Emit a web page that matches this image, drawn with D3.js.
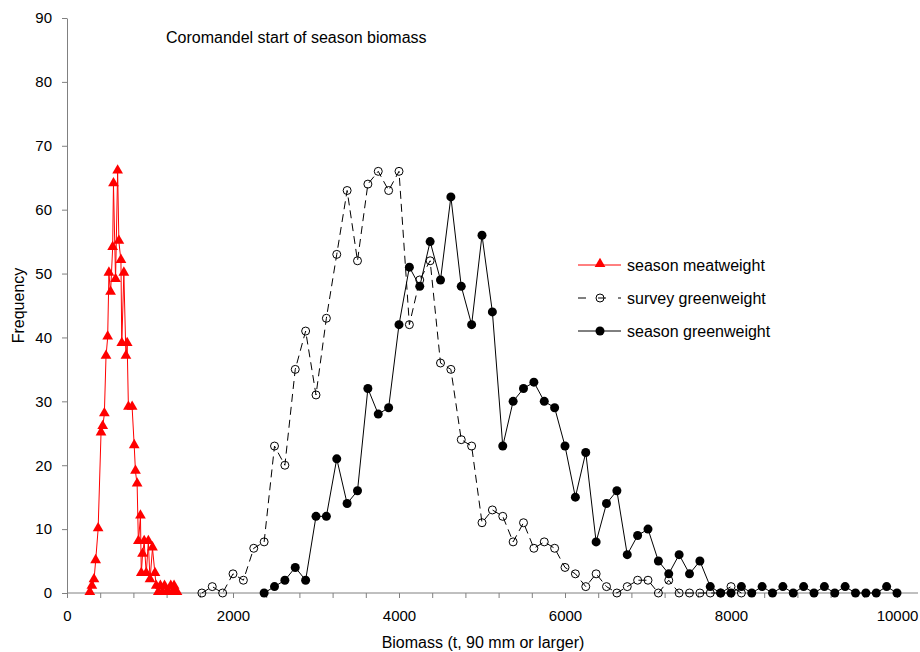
<!DOCTYPE html>
<html>
<head>
<meta charset="utf-8">
<script src="https://cdn.jsdelivr.net/npm/d3@7"></script>
<style>
  body { margin: 0; background: #fff; }
  svg text { font-family: Arial, "Liberation Sans", sans-serif; fill: #000; }
</style>
</head>
<body>
<div id="chart"></div>
<script>
// season meatweight (red triangles)
const meatX = [275, 300, 325, 345, 375, 410, 430, 450, 470, 490, 505, 525, 550, 560, 585, 610, 625, 650, 660, 685,
    710, 725, 740, 785, 810, 825, 845, 860, 885, 895, 910, 930, 955, 980, 1000, 1030, 1060, 1075, 1100, 1125,
    1150, 1175, 1200, 1225, 1250, 1275, 1290, 1310, 1325];
const meatY = [0, 1, 2, 5, 10, 25, 26, 28, 37, 40, 50, 47, 54, 64, 49, 66, 55, 52, 39, 50,
    37, 39, 29, 29, 23, 19, 17, 8, 12, 3, 6, 8, 3, 8, 2, 7, 3, 1, 0, 1,
    0, 1, 0, 0, 1, 0, 1, 0, 0];

// survey greenweight (open circles, dashed)
const surveyX = [1625, 1750, 1875, 2000, 2125, 2250, 2375, 2500, 2625, 2750, 2875, 3000, 3125, 3250, 3375, 3500,
    3625, 3750, 3875, 4000, 4125, 4250, 4375, 4500, 4625, 4750, 4875, 5000, 5125, 5250, 5375, 5500,
    5625, 5750, 5875, 6000, 6125, 6250, 6375, 6500, 6625, 6750, 6875, 7000, 7125, 7250, 7375, 7500,
    7625, 7750, 7875, 8000, 8125];
const surveyY = [0, 1, 0, 3, 2, 7, 8, 23, 20, 35, 41, 31, 43, 53, 63, 52,
    64, 66, 63, 66, 42, 49, 52, 36, 35, 24, 23, 11, 13, 12, 8, 11,
    7, 8, 7, 4, 3, 1, 3, 1, 0, 1, 2, 2, 0, 2, 0, 0,
    0, 0, 0, 1, 0];

// season greenweight (filled circles, solid)
const seasonX = [2375, 2500, 2625, 2750, 2875, 3000, 3125, 3250, 3375, 3500, 3625, 3750, 3875, 4000, 4125, 4250,
    4375, 4500, 4625, 4750, 4875, 5000, 5125, 5250, 5375, 5500, 5625, 5750, 5875, 6000, 6125, 6250,
    6375, 6500, 6625, 6750, 6875, 7000, 7125, 7250, 7375, 7500, 7625, 7750, 7875, 8000, 8125, 8250,
    8375, 8500, 8625, 8750, 8875, 9000, 9125, 9250, 9375, 9500, 9625, 9750, 9875, 10000];
const seasonY = [0, 1, 2, 4, 2, 12, 12, 21, 14, 16, 32, 28, 29, 42, 51, 48,
    55, 49, 62, 48, 42, 56, 44, 23, 30, 32, 33, 30, 29, 23, 15, 22,
    8, 14, 16, 6, 9, 10, 5, 3, 6, 3, 5, 1, 0, 0, 1, 0,
    1, 0, 1, 0, 1, 0, 1, 0, 1, 0, 0, 0, 1, 0];

const yTicks = [0, 10, 20, 30, 40, 50, 60, 70, 80, 90];
const xTicks = [0, 400, 800, 1200, 1600, 2000, 2400, 2800, 3200, 3600, 4000, 4400, 4800, 5200, 5600, 6000,
    6400, 6800, 7200, 7600, 8000, 8400, 8800, 9200, 9600, 10000];
const xLabelled = [0, 2000, 4000, 6000, 8000, 10000];

const legendNames = ["season meatweight", "survey greenweight", "season greenweight"];

const width = 920, height = 652;
const svg = d3.select("#chart").append("svg")
    .attr("width", width)
    .attr("height", height);

const x = d3.scaleLinear().domain([0, 10000]).range([67, 897]);
const y = d3.scaleLinear().domain([0, 90]).range([593, 18]);
const axisColor = "#808080";

// axes
const yAxis = svg.append("g")
    .attr("transform", `translate(${x(0)},0)`)
    .call(d3.axisLeft(y).tickValues(yTicks).tickSize(5).tickSizeOuter(0).tickPadding(10));
const xAxis = svg.append("g")
    .attr("transform", `translate(0,${y(0)})`)
    .call(d3.axisBottom(x).tickValues(xTicks).tickSize(5).tickSizeOuter(0).tickPadding(12)
        .tickFormat(d => xLabelled.includes(d) ? d : ""));
xAxis.select(".domain").attr("d", `M${x(0)},0H918`);
[xAxis, yAxis].forEach(g => {
    g.select(".domain").attr("stroke", axisColor);
    g.selectAll(".tick line").attr("stroke", axisColor);
    g.selectAll("text").style("font-size", "15px").attr("fill", "#000")
        .style("font-family", "Arial, 'Liberation Sans', sans-serif");
});

svg.append("text")
    .attr("x", 483).attr("y", 648)
    .attr("text-anchor", "middle")
    .style("font-size", "16px")
    .text("Biomass (t, 90 mm or larger)");
svg.append("text")
    .attr("transform", `translate(24,${y(45)}) rotate(-90)`)
    .attr("text-anchor", "middle")
    .style("font-size", "16px")
    .text("Frequency");
svg.append("text")
    .attr("x", 166).attr("y", 43)
    .style("font-size", "16px")
    .text("Coromandel start of season biomass");

const tri = d3.symbol().type(d3.symbolTriangle).size(50);
const line = d3.line().x(d => x(d[0])).y(d => y(d[1]));

// season meatweight
const meat = d3.zip(meatX, meatY);
svg.append("path")
    .attr("d", line(meat))
    .attr("fill", "none")
    .attr("stroke", "#ff0000")
    .attr("stroke-width", 1);
svg.append("g").selectAll("path")
    .data(meat)
    .join("path")
    .attr("d", tri)
    .attr("transform", d => `translate(${x(d[0])},${y(d[1]) - 1})`)
    .attr("fill", "#ff0000");

// survey greenweight
const survey = d3.zip(surveyX, surveyY);
svg.append("path")
    .attr("d", line(survey))
    .attr("fill", "none")
    .attr("stroke", "#000")
    .attr("stroke-width", 1)
    .attr("stroke-dasharray", "8,5");
svg.append("g").selectAll("circle")
    .data(survey)
    .join("circle")
    .attr("cx", d => x(d[0]))
    .attr("cy", d => y(d[1]))
    .attr("r", 4)
    .attr("fill", "none")
    .attr("stroke", "#000")
    .attr("stroke-width", 1);

// season greenweight
const season = d3.zip(seasonX, seasonY);
svg.append("path")
    .attr("d", line(season))
    .attr("fill", "none")
    .attr("stroke", "#000")
    .attr("stroke-width", 1);
svg.append("g").selectAll("circle")
    .data(season)
    .join("circle")
    .attr("cx", d => x(d[0]))
    .attr("cy", d => y(d[1]))
    .attr("r", 4.5)
    .attr("fill", "#000");

// legend
const legend = svg.append("g").attr("transform", "translate(578,265)");
legendNames.forEach((name, i) => {
    const g = legend.append("g").attr("transform", `translate(0,${i * 33})`);
    const ln = g.append("line")
        .attr("x1", 0).attr("x2", 43).attr("y1", 0).attr("y2", 0)
        .attr("stroke", i === 0 ? "#ff0000" : "#000")
        .attr("stroke-width", 1);
    if (i === 1) ln.attr("stroke-dasharray", "8,12");
    if (i === 0) {
        g.append("path").attr("d", tri).attr("transform", "translate(22,-1)").attr("fill", "#ff0000");
    } else if (i === 1) {
        g.append("circle").attr("cx", 22).attr("cy", 0).attr("r", 4)
            .attr("fill", "none").attr("stroke", "#000");
    } else {
        g.append("circle").attr("cx", 22).attr("cy", 0).attr("r", 4.5).attr("fill", "#000");
    }
    g.append("text")
        .attr("x", 49).attr("y", 6)
        .style("font-size", "16px")
        .text(name);
});
</script>
</body>
</html>
